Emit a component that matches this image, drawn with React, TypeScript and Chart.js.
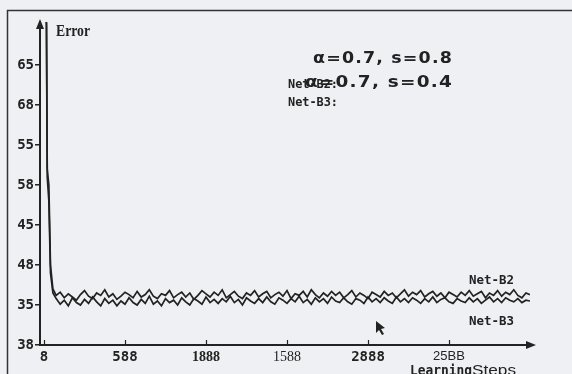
import React, { useEffect, useRef } from "react";
import { Chart, registerables } from "chart.js";

Chart.register(...registerables);

// ---------- data ----------
const STEPS = [
  0, 15, 20, 30, 40, 55,
  75, 100, 125, 150, 175, 200, 225, 250, 275, 300,
  325, 350, 375, 400, 425, 450, 475, 500, 525, 550,
  575, 600, 625, 650, 675, 700, 725, 750, 775, 800,
  825, 850, 875, 900, 925, 950, 975, 1000, 1025, 1050,
  1075, 1100, 1125, 1150, 1175, 1200, 1225, 1250, 1275, 1300,
  1325, 1350, 1375, 1400, 1425, 1450, 1475, 1500, 1525, 1550,
  1575, 1600, 1625, 1650, 1675, 1700, 1725, 1750, 1775, 1800,
  1825, 1850, 1875, 1900, 1925, 1950, 1975, 2000, 2025, 2050,
  2075, 2100, 2125, 2150, 2175, 2200, 2225, 2250, 2275, 2300,
  2325, 2350, 2375, 2400, 2425, 2450, 2475, 2500, 2525, 2550,
  2575, 2600, 2625, 2650, 2675, 2700, 2725, 2750, 2775, 2800,
  2825, 2850, 2875, 2900, 2925, 2950, 2975, 3000,
];

const NET_B2 = [
  75, 72, 52, 50, 40, 37,
  36.2, 36.6, 35.9, 36.4, 36.0, 35.6, 36.3, 36.8, 36.1, 35.8,
  36.5, 36.2, 36.9, 36.0, 36.4, 35.7, 36.1, 36.6, 36.3, 35.9,
  36.7, 36.0, 36.3, 36.9, 36.1, 35.8, 36.4, 36.2, 36.8, 35.9,
  36.3, 36.6, 36.0, 36.5, 35.7, 36.2, 36.8, 36.4, 36.0, 36.6,
  36.2, 36.9, 35.9, 36.3, 36.7, 36.1, 35.8, 36.5, 36.2, 36.8,
  36.0, 36.4, 36.7, 35.9, 36.3, 36.6, 36.1, 36.8, 35.8, 36.4,
  36.2, 36.7, 36.0, 36.9, 36.3, 35.9, 36.5, 36.1, 36.7, 36.2,
  36.6, 35.9, 36.3, 36.8, 36.0, 36.5, 36.2, 35.8, 36.6, 36.3,
  36.0, 36.7, 36.2, 36.5, 35.9, 36.4, 36.9, 36.1, 36.6, 36.3,
  36.8, 36.0, 36.4, 36.7, 36.1, 36.5, 35.9, 36.6, 36.3, 36.0,
  36.6, 36.2, 36.8, 36.1, 36.4, 36.7, 35.9, 36.5, 36.2, 36.8,
  36.1, 36.6, 36.3, 36.9, 36.2, 35.9, 36.5, 36.3,
];

const NET_B3 = [
  75, 70, 51, 48, 39, 36.5,
  35.8, 35.1, 35.6, 34.9, 35.9, 35.3, 35.0, 35.7, 35.2, 36.0,
  35.4, 34.9, 35.8, 35.2, 35.6, 34.9, 35.5, 35.1, 35.9, 35.3,
  35.0, 35.7, 35.2, 36.1, 35.1, 35.5, 34.9, 35.8, 35.3, 35.6,
  35.0, 35.9, 35.4, 35.0, 35.8, 35.5, 35.1, 36.0, 35.3, 35.7,
  35.2, 35.8, 35.4, 36.1, 35.3, 35.7, 35.0, 35.9, 35.5, 35.2,
  35.8, 35.3, 36.0, 35.4, 35.1, 35.9, 35.6, 35.2, 35.8, 35.4,
  36.1, 35.3, 35.7, 35.1, 35.9, 35.4, 35.8, 35.2, 36.0, 35.5,
  35.3, 35.9, 35.4, 35.1, 35.8, 35.6, 35.2, 36.0, 35.4, 35.8,
  35.3, 35.9, 35.5, 35.2, 36.0, 35.4, 35.8, 35.3, 35.9, 35.6,
  35.2, 35.8, 35.4, 36.0, 35.3, 35.7, 35.9, 35.4, 35.2, 35.8,
  35.5, 35.3, 35.9, 35.4, 35.8, 35.2, 35.6, 36.0, 35.4, 35.8,
  35.3, 35.9, 35.6, 35.4, 35.8, 35.3, 35.6, 35.5,
];

const Y_TICKS = [30, 35, 40, 45, 50, 55, 60, 65];
const Y_TICK_LABELS = ["38", "35", "48", "45", "58", "55", "68", "65"];
const X_TICKS = [0, 500, 1000, 1500, 2000, 2500];
const X_TICK_LABELS = ["8", "588", "1888", "1588", "2888", "25BB"];

const Y_TITLE = "Error";
const X_TITLE_A = "Learning";
const X_TITLE_B = "Steps";
const PARAM_LINES = ["α=0.7, s=0.8", "α=0.7, s=0.4"];
const LEGEND_NAMES = ["Net-B2:", "Net-B3:"];
const SERIES_NAMES = ["Net-B2", "Net-B3"];

// ---------- styles ----------
const BG = "#eef0f3";
const INK = "#222222";
const MONO = "'DejaVu Sans Mono'";

const X_TICK_FONTS = [
  { family: MONO, weight: "bold", size: 14 },
  { family: MONO, weight: "bold", size: 14 },
  { family: "'Liberation Serif'", weight: "bold", size: 14 },
  { family: "'Liberation Serif'", weight: "normal", size: 14 },
  { family: MONO, weight: "bold", size: 14 },
  { family: "'Liberation Sans'", weight: "normal", size: 13 },
];

function drawFit(ctx: CanvasRenderingContext2D, text: string, x: number, y: number, font: string, w: number, spacing = 0) {
  ctx.save();
  ctx.font = font;
  (ctx as any).letterSpacing = spacing + "px";
  const m = ctx.measureText(text).width;
  const s = w / m;
  ctx.translate(x, y);
  ctx.scale(s, 1);
  ctx.textAlign = "left";
  ctx.textBaseline = "alphabetic";
  ctx.fillText(text, 0, 0);
  ctx.restore();
}

const decor = {
  id: "decor",
  beforeDraw(chart: any) {
    const { ctx, width, height } = chart;
    ctx.save();
    ctx.fillStyle = BG;
    ctx.fillRect(0, 0, width, height);
    ctx.strokeStyle = "#333";
    ctx.lineWidth = 1.5;
    ctx.beginPath();
    ctx.moveTo(7.5, height);
    ctx.lineTo(7.5, 10.5);
    ctx.lineTo(width, 10.5);
    ctx.stroke();
    ctx.restore();
  },
  afterDraw(chart: any) {
    const { ctx, chartArea: a, scales } = chart;
    ctx.save();
    ctx.fillStyle = INK;
    ctx.strokeStyle = INK;
    // y arrow
    ctx.beginPath();
    ctx.moveTo(a.left, a.top - 3);
    ctx.lineTo(a.left - 4, a.top + 7);
    ctx.lineTo(a.left + 4, a.top + 7);
    ctx.closePath();
    ctx.fill();
    // x arrow
    ctx.beginPath();
    ctx.moveTo(a.right + 6, a.bottom);
    ctx.lineTo(a.right - 4, a.bottom - 4);
    ctx.lineTo(a.right - 4, a.bottom + 4);
    ctx.closePath();
    ctx.fill();
    // x tick marks (inward)
    ctx.lineWidth = 1.2;
    X_TICKS.forEach((v) => {
      const px = Math.round(scales.x.getPixelForValue(v)) + 0.5;
      ctx.beginPath();
      ctx.moveTo(px, a.bottom);
      ctx.lineTo(px, a.bottom - 5);
      ctx.stroke();
    });
    // cursor
    ctx.beginPath();
    ctx.moveTo(376, 321);
    ctx.lineTo(376, 333);
    ctx.lineTo(379, 330);
    ctx.lineTo(382, 335);
    ctx.lineTo(384, 334);
    ctx.lineTo(381, 329);
    ctx.lineTo(385, 328);
    ctx.closePath();
    ctx.fill();

    // texts
    drawFit(ctx, Y_TITLE, 56, 36, "bold 16px 'Liberation Serif'", 34);
    drawFit(ctx, PARAM_LINES[0], 313, 63, "bold 15px 'DejaVu Sans'", 140, 1);
    drawFit(ctx, PARAM_LINES[1], 305, 87, "bold 15px 'DejaVu Sans'", 148, 1);
    drawFit(ctx, LEGEND_NAMES[0], 288, 88, `bold 12px ${MONO}`, 50);
    drawFit(ctx, LEGEND_NAMES[1], 288, 106, `bold 12px ${MONO}`, 50);
    drawFit(ctx, SERIES_NAMES[0], 469, 284, `bold 13px ${MONO}`, 45);
    drawFit(ctx, SERIES_NAMES[1], 469, 325, `bold 13px ${MONO}`, 45);
    drawFit(ctx, X_TITLE_A, 410, 375, `bold 14px ${MONO}`, 62);
    drawFit(ctx, X_TITLE_B, 472, 375, "14px 'Liberation Sans'", 44);
    ctx.restore();
  },
};

export default function App() {
  const ref = useRef<HTMLCanvasElement | null>(null);
  useEffect(() => {
    if (!ref.current) return;
    const mk = (vals: number[]) => STEPS.map((s, i) => ({ x: s, y: vals[i] }));
    const chart = new Chart(ref.current, {
      type: "line",
      data: {
        datasets: [
          { label: SERIES_NAMES[0], data: mk(NET_B2), borderColor: INK, borderWidth: 1.7, pointRadius: 0, tension: 0 },
          { label: SERIES_NAMES[1], data: mk(NET_B3), borderColor: INK, borderWidth: 1.7, pointRadius: 0, tension: 0 },
        ],
      },
      options: {
        animation: false,
        responsive: false,
        devicePixelRatio: 1,
        layout: { padding: { top: 22, right: 42, left: 0, bottom: 0 } },
        plugins: { legend: { display: false }, tooltip: { enabled: false } },
        scales: {
          x: {
            type: "linear",
            min: -24.7,
            max: 3000,
            afterBuildTicks: (s: any) => {
              s.ticks = X_TICKS.map((v) => ({ value: v }));
            },
            afterFit: (s: any) => {
              s.height = 29;
            },
            grid: { display: false, drawTicks: false },
            border: { display: true, color: INK, width: 2 },
            ticks: {
              autoSkip: false,
              maxRotation: 0,
              padding: 4,
              color: INK,
              font: (c: any) => X_TICK_FONTS[c.index] as any,
              callback: (_v: any, i: number) => X_TICK_LABELS[i],
            },
          },
          y: {
            type: "linear",
            min: 30,
            max: 70.375,
            afterBuildTicks: (s: any) => {
              s.ticks = Y_TICKS.map((v) => ({ value: v }));
            },
            afterFit: (s: any) => {
              s.width = 40;
            },
            grid: { display: true, drawOnChartArea: false, drawTicks: true, tickLength: 5, color: INK, lineWidth: 1.5 },
            border: { display: true, color: INK, width: 2 },
            ticks: {
              autoSkip: false,
              padding: 1,
              color: INK,
              font: { family: MONO, weight: "bold", size: 14 } as any,
              callback: (_v: any, i: number) => Y_TICK_LABELS[i],
            },
          },
        },
      },
      plugins: [decor],
    });
    return () => chart.destroy();
  }, []);
  return (
    <div style={{ position: "fixed", left: 0, top: 0, width: 572, height: 374, background: BG }}>
      <canvas ref={ref} width={572} height={374} style={{ display: "block", width: 572, height: 374 }} />
    </div>
  );
}
